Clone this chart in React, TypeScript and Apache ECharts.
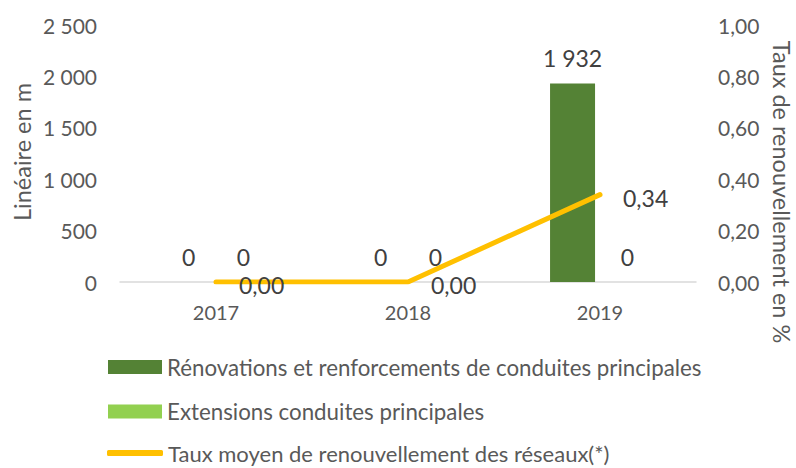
import React, { useEffect, useRef } from "react";
import * as echarts from "echarts";

const categories = ["2017", "2018", "2019"];
const renovations = [0, 0, 1932];
const extensions = [0, 0, 0];
const taux = [0, 0, 0.34];
const leftTicks = { min: 0, max: 2500, interval: 500 };
const rightTicks = { min: 0, max: 1, interval: 0.2 };

const NAME_RENO = "Rénovations et renforcements de conduites principales";
const NAME_EXT = "Extensions conduites principales";
const NAME_TAUX = "Taux moyen de renouvellement des réseaux(*)";
const LEFT_TITLE = "Linéaire en m";
const RIGHT_TITLE = "Taux de renouvellement en %";

const FONT = "Lato";
const TXT = "#595959";
const LBL = "#404040";

const fmtThousands = (v: number) =>
  String(Math.round(v)).replace(/\B(?=(\d{3})+(?!\d))/g, " ");
const fmtDec = (v: number) => v.toFixed(2).replace(".", ",");

const legendBase = {
  orient: "horizontal",
  left: 108,
  padding: 0,
  itemWidth: 54,
  itemHeight: 14,
  textStyle: { fontFamily: FONT, fontSize: 22.3, color: TXT, lineHeight: 22 },
};

export default function App() {
  const ref = useRef<HTMLDivElement>(null);
  useEffect(() => {
    if (!ref.current) return;
    const chart = echarts.init(ref.current, undefined, { renderer: "svg" });
    chart.setOption({
      animation: false,
      textStyle: { fontFamily: FONT, color: TXT },
      grid: { left: 120, right: 100, top: 25, bottom: 186 },
      legend: [
        { ...legendBase, top: 356, data: [{ name: NAME_RENO, icon: "rect" }] },
        { ...legendBase, top: 400.5, data: [{ name: NAME_EXT, icon: "rect" }] },
        {
          ...legendBase,
          left: 107,
          top: 442,
          itemWidth: 56,
          itemHeight: 6,
          textStyle: { ...legendBase.textStyle, fontSize: 22 },
          data: [{ name: NAME_TAUX, icon: "roundRect" }],
        },
      ],
      xAxis: {
        type: "category",
        data: categories,
        axisLine: { lineStyle: { color: "#d9d9d9", width: 1.5 } },
        axisTick: { show: false },
        axisLabel: { color: TXT, fontSize: 20, fontFamily: FONT, margin: 20 },
      },
      yAxis: [
        {
          type: "value",
          ...leftTicks,
          splitLine: { show: false },
          axisLine: { show: false },
          axisTick: { show: false },
          axisLabel: {
            color: TXT,
            fontSize: 21,
            fontFamily: FONT,
            margin: 23,
            formatter: (v: number) => fmtThousands(v),
          },
        },
        {
          type: "value",
          ...rightTicks,
          position: "right",
          splitLine: { show: false },
          axisLine: { show: false },
          axisTick: { show: false },
          axisLabel: {
            color: TXT,
            fontSize: 21,
            fontFamily: FONT,
            margin: 22,
            formatter: (v: number) => fmtDec(v),
          },
        },
      ],
      graphic: [
        {
          type: "text",
          x: 22,
          y: 152,
          rotation: Math.PI / 2,
          style: {
            text: LEFT_TITLE,
            fontFamily: FONT,
            fontSize: 23.5,
            fill: TXT,
            align: "center",
            verticalAlign: "middle",
          },
        },
        {
          type: "text",
          x: 782,
          y: 192,
          rotation: -Math.PI / 2,
          style: {
            text: RIGHT_TITLE,
            fontFamily: FONT,
            fontSize: 23.5,
            fill: TXT,
            align: "center",
            verticalAlign: "middle",
          },
        },
      ],
      series: [
        {
          name: NAME_RENO,
          type: "bar",
          data: renovations,
          yAxisIndex: 0,
          barWidth: 45,
          barGap: "22%",
          itemStyle: { color: "#548235" },
          label: {
            show: true,
            position: "top",
            distance: 14,
            color: LBL,
            fontSize: 23,
            fontFamily: FONT,
            formatter: (p: any) => fmtThousands(p.value),
          },
        },
        {
          name: NAME_EXT,
          type: "bar",
          data: extensions,
          yAxisIndex: 0,
          barWidth: 45,
          barGap: "22%",
          itemStyle: { color: "#92D050" },
          label: {
            show: true,
            position: "top",
            distance: 14,
            color: LBL,
            fontSize: 23,
            fontFamily: FONT,
            formatter: (p: any) => fmtThousands(p.value),
          },
        },
        {
          name: NAME_TAUX,
          type: "line",
          data: taux,
          yAxisIndex: 1,
          symbol: "circle",
          symbolSize: 2,
          showSymbol: true,
          lineStyle: { color: "#FFC000", width: 5, cap: "round" },
          itemStyle: { color: "#FFC000" },
          label: {
            show: true,
            position: "right",
            distance: 22,
            offset: [0, 3],
            color: LBL,
            fontSize: 23,
            fontFamily: FONT,
            formatter: (p: any) => fmtDec(p.value),
          },
        },
      ],
    });
    return () => chart.dispose();
  }, []);
  return (
    <div
      ref={ref}
      style={{ position: "absolute", left: 0, top: 0, width: 796, height: 468 }}
    />
  );
}
